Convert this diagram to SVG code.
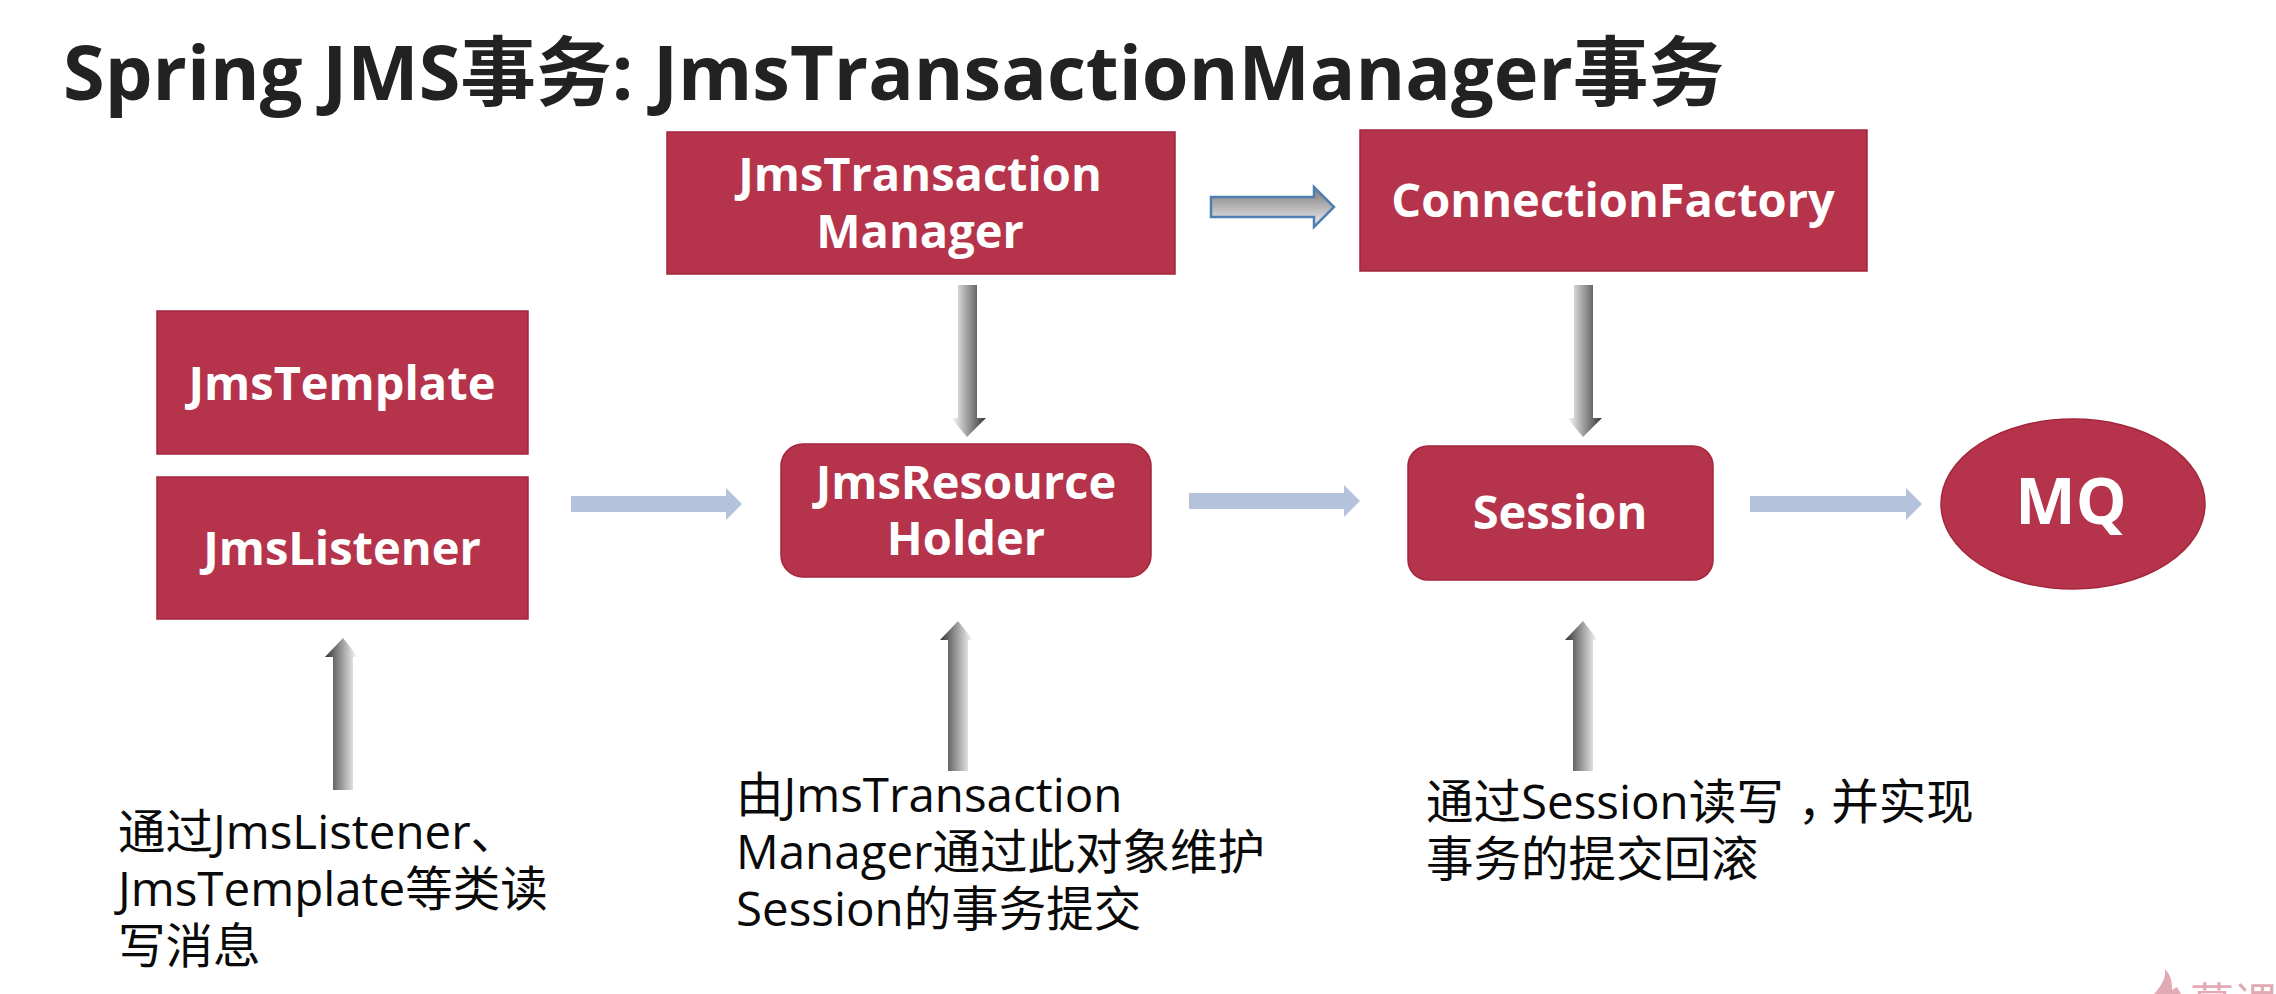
<svg xmlns="http://www.w3.org/2000/svg" width="2276" height="994" viewBox="0 0 2276 994">
<style>
.n{fill:#b5334b;stroke:#a3263c;stroke-width:1.5}
.l{fill:#fff;font-family:"Open Sans","Noto Sans CJK SC",sans-serif;font-weight:700;font-size:47px;text-anchor:middle}
.t{fill:#0a0a0a;font-family:"Open Sans","Noto Sans CJK SC",sans-serif;font-size:47.5px}
.b{fill:#b4c2dc}
.u{fill:url(#gh)}
.d{fill:url(#gd)}
</style>
<defs>
<linearGradient id="gh" x1="0" x2="1" y1="0" y2="0"><stop offset="0" stop-color="#333"/><stop offset="1" stop-color="#fff"/></linearGradient>
<linearGradient id="gd" x1="0" x2="1" y1="0" y2="0"><stop offset="0" stop-color="#fff"/><stop offset="1" stop-color="#333"/></linearGradient>
<linearGradient id="gv" x1="0" x2="0" y1="0" y2="1"><stop offset="0" stop-color="#777"/><stop offset="1" stop-color="#f2f2f2"/></linearGradient>
</defs>
<rect width="2276" height="994" fill="#fff"/>
<text id="title" x="63" y="100" font-family="'Open Sans','Noto Sans CJK SC',sans-serif" font-weight="700" font-size="75.7" fill="#222">Spring JMS事务: JmsTransactionManager事务</text>
<g id="connectors">
<path class="b" d="M571 496H726V488L742 504L726 520V512H571Z"/>
<path class="b" d="M1189 493H1344V485L1360 501L1344 517V509H1189Z"/>
<path class="b" d="M1750 496H1906V488L1922 504L1906 520V512H1750Z"/>
<path d="M1211 197H1314V187L1334 207L1314 227V217H1211Z" fill="url(#gv)" stroke="#4f7fb0" stroke-width="2.5"/>
<path class="d" d="M958 285H977V418H986L967 437L951 418H958Z"/>
<path class="d" d="M1574 285H1593V418H1602L1583 437L1567 418H1574Z"/>
<path class="u" d="M333 790V657H325L343 638L358 657H353V790Z"/>
<path class="u" d="M948 771V640H940L958 621L973 640H968V771Z"/>
<path class="u" d="M1573 771V640H1565L1583 621L1598 640H1593V771Z"/>
</g>
<g id="jmsTransactionManager"><rect class="n" x="667" y="132" width="508" height="142"/><text class="l" x="920" y="191">JmsTransaction</text><text class="l" x="920" y="248">Manager</text></g>
<g id="connectionFactory"><rect class="n" x="1360" y="130" width="507" height="141"/><text class="l" x="1613" y="217">ConnectionFactory</text></g>
<g id="jmsTemplate"><rect class="n" x="157" y="311" width="371" height="143"/><text class="l" x="342" y="400">JmsTemplate</text></g>
<g id="jmsListener"><rect class="n" x="157" y="477" width="371" height="142"/><text class="l" x="342" y="565">JmsListener</text></g>
<g id="jmsResourceHolder"><rect class="n" x="781" y="444" width="370" height="133" rx="22"/><text class="l" x="966" y="499">JmsResource</text><text class="l" x="966" y="555">Holder</text></g>
<g id="session"><rect class="n" x="1408" y="446" width="305" height="134" rx="20"/><text class="l" x="1560" y="529">Session</text></g>
<g id="mq"><ellipse class="n" cx="2073" cy="504" rx="132" ry="85"/><text class="l" x="2071" y="524" style="font-size:64px">MQ</text></g>
<g id="note1"><text class="t" x="118" y="849">通过JmsListener、</text><text class="t" x="118" y="906">JmsTemplate等类读</text><text class="t" x="118" y="963">写消息</text></g>
<g id="note2"><text class="t" x="736" y="812">由JmsTransaction</text><text class="t" x="736" y="869">Manager通过此对象维护</text><text class="t" x="736" y="926">Session的事务提交</text></g>
<g id="note3"><text class="t" x="1426" y="819">通过Session读写<tspan dx="14">，</tspan><tspan dx="-14">并实现</tspan></text><text class="t" x="1426" y="876">事务的提交回滚</text></g>
<g id="watermark"><path d="M2154 994C2162 985 2166 978 2165 969C2172 976 2172 984 2172 990L2177 987L2181 994Z" fill="#e2aab4"/><text x="2190" y="1020" font-family="'Noto Sans CJK SC',sans-serif" font-size="44" fill="#e2aab4">慕课</text></g>
</svg>
